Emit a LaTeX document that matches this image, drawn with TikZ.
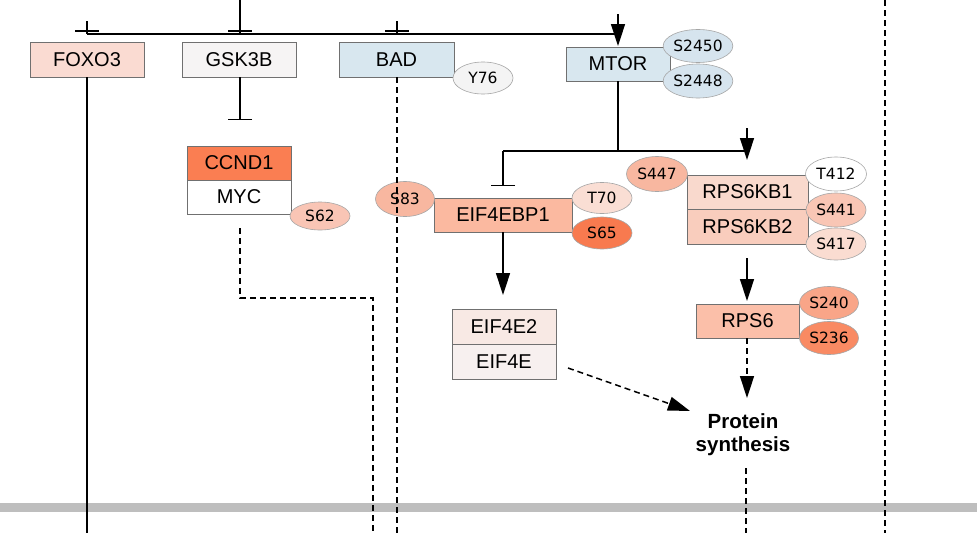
\documentclass[tikz,border=0pt]{standalone}
\usepackage{fontspec}
\setmainfont{Liberation Sans}
\newfontfamily\sitefont{DejaVu Sans}
\usetikzlibrary{arrows.meta,shapes.geometric}
\definecolor{cFOXO}{HTML}{FADBD2}
\definecolor{cGSK}{HTML}{F6F4F4}
\definecolor{cBlue}{HTML}{D8E7EF}
\definecolor{cBlueS}{HTML}{D6E4EE}
\definecolor{cGray}{HTML}{F4F4F4}
\definecolor{cCCND}{HTML}{FA7E52}
\definecolor{cS62}{HTML}{F9C5B5}
\definecolor{cEBP}{HTML}{FBB9A0}
\definecolor{cS83}{HTML}{F8B7A0}
\definecolor{cT70}{HTML}{FADED4}
\definecolor{cS65}{HTML}{F87A4F}
\definecolor{cKBa}{HTML}{F9D9CD}
\definecolor{cKBb}{HTML}{F9CDBD}
\definecolor{cS441}{HTML}{F9C6B5}
\definecolor{cS417}{HTML}{FADCD1}
\definecolor{cE2}{HTML}{F8E9E4}
\definecolor{cE}{HTML}{F7F0EF}
\definecolor{cRPS}{HTML}{FBBFA9}
\definecolor{cS240}{HTML}{F9A588}
\definecolor{cS236}{HTML}{F98A63}
\definecolor{cBand}{HTML}{BEBEBE}
\definecolor{cEdge}{HTML}{707070}
\begin{document}
\begin{tikzpicture}[x=1pt,y=-1pt,
  gene/.style={draw=cEdge, line width=0.9pt, rectangle, inner sep=0pt, minimum height=34pt, font=\fontsize{20}{22}\selectfont},
  site/.style={ellipse, draw=gray!70, line width=0.6pt, inner sep=0pt, minimum width=60pt, minimum height=33pt, font=\sitefont\fontsize{15.5}{16}\selectfont},
  ln/.style={line width=1.5pt},
  dsh/.style={line width=1.5pt, dash pattern=on 6pt off 4pt},
  arr/.style={-{Triangle[length=22pt,width=14pt]}},
  inh/.style={-{Bar[width=24pt,line width=1.5pt]}},
]
\useasboundingbox (0,0) rectangle (977,533);
\fill[white] (0,0) rectangle (977,533);
% background band
\fill[cBand] (0,503) rectangle (977,512);

% coordinates
\coordinate (foxoStub) at (87,21);
\coordinate (t0) at (87,34);
\coordinate (foxoBarL) at (75,31);
\coordinate (foxoBarR) at (99,31);
\coordinate (gskTop) at (240,0);
\coordinate (gskJ) at (240,34);
\coordinate (gskBarL) at (228,31);
\coordinate (gskBarR) at (252,31);
\coordinate (badStub) at (397,21);
\coordinate (badJ) at (397,34);
\coordinate (badBarL) at (385,31);
\coordinate (badBarR) at (409,31);
\coordinate (mtorTop) at (618,14);
\coordinate (t1) at (618,34);
\coordinate (mtorTip) at (618,46);
\coordinate (mtorOut) at (618,81);
\coordinate (mJ) at (618,151);
\coordinate (mL) at (503,151);
\coordinate (mR) at (747,151);
\coordinate (ebpBar) at (503,186);
\coordinate (kbTop) at (747,128);
\coordinate (kbTip) at (747,160);
\coordinate (gskOut) at (240,77);
\coordinate (ccndBar) at (240,120);
\coordinate (foxoOut) at (87,77);
\coordinate (foxoBot) at (87,533);
\coordinate (badOut) at (397,77);
\coordinate (badBot) at (397,533);
\coordinate (mycOut) at (240,228);
\coordinate (mycA) at (240,298);
\coordinate (mycB) at (373,298);
\coordinate (mycBot) at (373,533);
\coordinate (ebpOut) at (503,232);
\coordinate (e2Tip) at (503,295);
\coordinate (eOut) at (568,368);
\coordinate (psTipA) at (690,411);
\coordinate (kbOut) at (747,258);
\coordinate (rpsTip) at (747,301);
\coordinate (rpsOut) at (747,338);
\coordinate (psTipB) at (747,398);
\coordinate (psOut) at (746,468);
\coordinate (psBot) at (746,533);
\coordinate (rTop) at (885,0);
\coordinate (rBot) at (885,533);

% gene nodes
\node[gene, fill=cFOXO, minimum width=114pt, minimum height=35pt] (foxo) at (87,59.5) {FOXO3};
\node[gene, fill=cGSK, minimum width=114pt, minimum height=35pt] (gsk) at (239,59.5) {GSK3B};
\node[gene, fill=cBlue, minimum width=115pt, minimum height=35pt] (bad) at (396.5,59.5) {BAD};
\node[gene, fill=cBlue, minimum width=104pt] (mtor) at (618,64) {MTOR};
\node[gene, fill=cCCND, minimum width=104pt] (ccnd) at (239,163) {CCND1};
\node[gene, fill=white, minimum width=104pt] (myc) at (239,197) {MYC};
\node[gene, fill=cEBP, minimum width=138pt] (ebp) at (503,215) {EIF4EBP1};
\node[gene, fill=cE2, minimum width=104pt, minimum height=35pt] (e2) at (504,326.5) {EIF4E2};
\node[gene, fill=cE, minimum width=104pt, minimum height=35pt] (e) at (504,361.5) {EIF4E};
\node[gene, fill=cKBa, minimum width=121pt] (kb1) at (747.5,192) {RPS6KB1};
\node[gene, fill=cKBb, minimum width=121pt, minimum height=35pt] (kb2) at (747.5,226.5) {RPS6KB2};
\node[gene, fill=cRPS, minimum width=103pt] (rps) at (747.5,321) {RPS6};
\node[font=\bfseries\fontsize{20.5}{23}\selectfont, align=center, inner sep=0pt] (ps) at (743,434.5) {Protein\\synthesis};

% site ellipses
\node[site, fill=cGray, minimum height=32pt] (y76) at (483,78) {Y76};
\node[site, fill=cBlueS] (s2450) at (698,46) {S2450};
\node[site, fill=cBlueS, minimum height=34pt] (s2448) at (698,81) {S2448};
\node[site, fill=cS62, minimum height=28pt] (s62) at (320,216) {S62};
\node[site, fill=cS83, minimum width=59pt, minimum height=35pt] (s83) at (405,199) {S83};
\node[site, fill=cT70, minimum height=31pt] (t70) at (602,198) {T70};
\node[site, fill=cS65, minimum height=32pt] (s65) at (602,233) {S65};
\node[site, fill=cS83, minimum width=61pt, minimum height=35pt] (s447) at (657,174) {S447};
\node[site, fill=white, minimum width=61pt, minimum height=34pt] (t412) at (836,174) {T412};
\node[site, fill=cS441, minimum height=34pt] (s441) at (836,210) {S441};
\node[site, fill=cS417, minimum height=32pt] (s417) at (836,244) {S417};
\node[site, fill=cS240, minimum width=59pt] (s240) at (829,303) {S240};
\node[site, fill=cS236, minimum width=59pt] (s236) at (829,338) {S236};

% top connectors
\draw[ln] (t0) -- (t1);
\draw[ln] (t0) -- (foxoStub);
\draw[ln] (foxoBarL) -- (foxoBarR);
\draw[ln] (gskTop) -- (gskJ);
\draw[ln] (gskBarL) -- (gskBarR);
\draw[ln] (badJ) -- (badStub);
\draw[ln] (badBarL) -- (badBarR);
\draw[ln, arr] (mtorTop) -- (mtorTip);

% MTOR downstream
\draw[ln] (mtorOut) -- (mJ);
\draw[ln] (mL) -- (mR);
\draw[ln, inh] (mL) -- (ebpBar);
\draw[ln, arr] (kbTop) -- (kbTip);

% GSK3B -> CCND1
\draw[ln, inh] (gskOut) -- (ccndBar);

% vertical lines
\draw[ln] (foxoOut) -- (foxoBot);
\draw[dsh] (badOut) -- (badBot);
\draw[dsh] (mycOut) -- (mycA) -- (mycB) -- (mycBot);
\draw[dsh] (rTop) -- (rBot);

% EIF4EBP1 branch
\draw[ln, arr] (ebpOut) -- (e2Tip);
\draw[dsh, arr] (eOut) -- (psTipA);

% RPS6 branch
\draw[ln, arr] (kbOut) -- (rpsTip);
\draw[dsh, arr] (rpsOut) -- (psTipB);
\draw[dsh] (psOut) -- (psBot);
\end{tikzpicture}
\end{document}
